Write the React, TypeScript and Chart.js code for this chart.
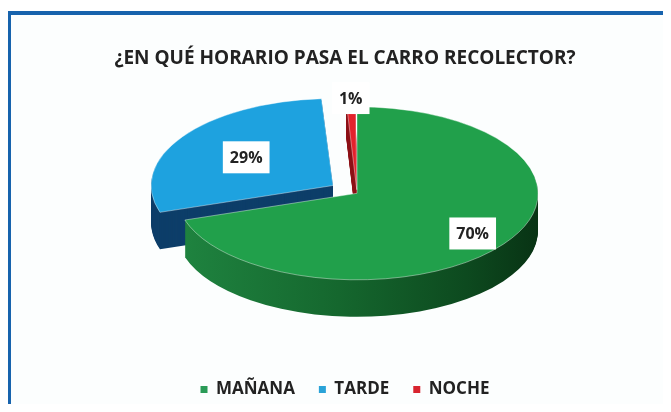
import React, { useEffect, useRef } from "react";
import { Chart, registerables } from "chart.js";

Chart.register(...registerables);

// ---- data ----
const titleText = "¿EN QUÉ HORARIO PASA EL CARRO RECOLECTOR?";
const categories = ["MAÑANA", "TARDE", "NOCHE"];
const values = [70, 29, 1];
const percentLabels = ["70%", "29%", "1%"];

// ---- styles ----
const topColors = ["#21a04b", "#1ea2df", "#e3222c"];
const sideColors = ["#166e31", "#0d3e69", "#8e1218"];
const legendColors = ["#2a9b57", "#2aa3d8", "#d8242f"];
const sliceOffsets = [0, 116, 30];
const TILT = 0.478; // vertical squash of the pie (3D look)
const DEPTH = 37; // thickness of the pie in px
const SHIFT_X = 12; // horizontal placement of the pie relative to title/legend
const LABEL_RADIUS = [0.79, 0.58, 1.06];
const FONT = "'Open Sans', 'DejaVu Sans', sans-serif";
const TEXT_COLOR = "#222222";

function applyTilt(ctx: CanvasRenderingContext2D, cx: number, cy: number) {
  ctx.translate(cx + SHIFT_X, cy);
  ctx.scale(1, TILT);
  ctx.translate(-cx, -cy);
}

const pie3d = {
  id: "pie3d",
  beforeDatasetsDraw(chart: any) {
    const ctx: CanvasRenderingContext2D = chart.ctx;
    const arcs = chart.getDatasetMeta(0).data as any[];
    const cx = arcs[0].x;
    const cy = arcs[0].y;
    const r = arcs[0].outerRadius;
    const order = [1, 2, 0];
    for (const i of order) {
      const arc = arcs[i];
      let fill: any = sideColors[i];
      if (i === 0) {
        const g = ctx.createLinearGradient(cx - r, 0, cx + r, 0);
        g.addColorStop(0, "#1f8440");
        g.addColorStop(0.45, "#15672e");
        g.addColorStop(0.8, "#0d4a1f");
        g.addColorStop(1, "#083314");
        fill = g;
      }
      for (let d = DEPTH; d >= 1; d--) {
        ctx.save();
        ctx.translate(0, d);
        applyTilt(ctx, cx, cy);
        const proxy = Object.create(arc);
        proxy.options = { ...arc.options, backgroundColor: fill, borderColor: fill, borderWidth: 0 };
        proxy.draw(ctx);
        ctx.restore();
      }
    }
    ctx.save();
    applyTilt(ctx, cx, cy);
  },
  afterDatasetsDraw(chart: any) {
    const ctx: CanvasRenderingContext2D = chart.ctx;
    ctx.restore();
    const arcs = chart.getDatasetMeta(0).data as any[];
    ctx.save();
    ctx.font = `bold 16px ${FONT}`;
    ctx.textAlign = "center";
    ctx.textBaseline = "middle";
    arcs.forEach((arc: any, i: number) => {
      const mid = (arc.startAngle + arc.endAngle) / 2;
      const off = (arc.options.offset || 0) / 4;
      const dist = off + LABEL_RADIUS[i] * arc.outerRadius;
      const x = arc.x + SHIFT_X + Math.cos(mid) * dist;
      const y = arc.y + Math.sin(mid) * dist * TILT;
      const text = percentLabels[i];
      const w = ctx.measureText(text).width;
      ctx.fillStyle = "#ffffff";
      ctx.fillRect(x - w / 2 - 7, y - 16, w + 14, 32);
      ctx.fillStyle = TEXT_COLOR;
      ctx.fillText(text, x, y + 1);
    });
    ctx.restore();
  },
};

export default function App() {
  const ref = useRef<HTMLCanvasElement | null>(null);

  useEffect(() => {
    if (!ref.current) return;
    const chart = new Chart(ref.current, {
      type: "pie",
      data: {
        labels: categories,
        datasets: [
          {
            data: values,
            backgroundColor: topColors,
            borderColor: "rgba(255,255,255,0.55)",
            borderWidth: 1,
            offset: sliceOffsets,
            hoverOffset: 0,
            clip: false as any,
          } as any,
        ],
      },
      options: {
        animation: false,
        responsive: false,
        radius: 181,
        layout: { padding: { left: 19, right: 0, top: 0, bottom: 4 } },
        plugins: {
          title: {
            display: true,
            text: titleText,
            color: TEXT_COLOR,
            font: { family: FONT, size: 19, weight: "bold" },
            padding: { top: 47, bottom: 0 },
          },
          legend: {
            position: "bottom",
            title: { display: true, text: "", font: { size: 1 }, padding: { top: 39, bottom: 0 } },
            labels: {
              color: TEXT_COLOR,
              font: { family: FONT, size: 17, weight: "bold" },
              boxWidth: 7,
              boxHeight: 7,
              padding: 24,
              generateLabels: () =>
                categories.map((c, i) => ({
                  text: c,
                  fillStyle: legendColors[i],
                  strokeStyle: legendColors[i],
                  fontColor: TEXT_COLOR,
                  lineWidth: 0,
                  hidden: false,
                  index: i,
                })),
            },
          },
          tooltip: { enabled: false },
        },
      } as any,
      plugins: [pie3d],
    });
    return () => chart.destroy();
  }, []);

  return (
    <div
      style={{
        position: "relative",
        width: 671,
        height: 412,
        margin: -8,
        background: "#ffffff",
        overflow: "hidden",
      }}
    >
      <div
        style={{
          position: "absolute",
          left: 7,
          top: 11,
          width: 680,
          height: 400,
          borderLeft: "4px solid #1763ad",
          borderTop: "4px solid #1763ad",
          background: "#fcfefe",
        }}
      />
      <div
        style={{
          position: "absolute",
          left: 11,
          top: 409,
          width: 660,
          height: 2,
          background: "#dcf4f7",
        }}
      />
      <canvas
        ref={ref}
        width={671}
        height={412}
        style={{ position: "absolute", left: 0, top: 0, width: 671, height: 412 }}
      />
    </div>
  );
}
